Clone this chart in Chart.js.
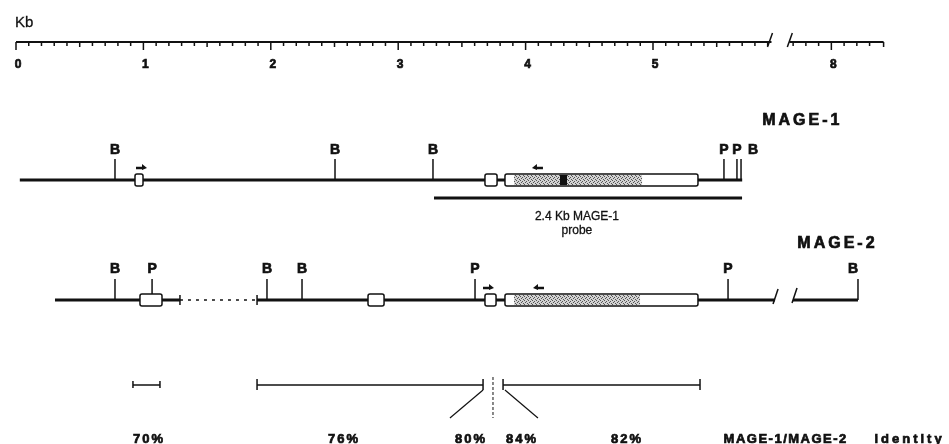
<!DOCTYPE html>
<html>
<head>
<meta charset="utf-8">
<script src="https://cdn.jsdelivr.net/npm/chart.js@4.4.0/dist/chart.umd.min.js"></script>
<style>
  html, body { margin: 0; padding: 0; background: #fff; }
  #wrap { position: relative; width: 949px; height: 444px; }
</style>
</head>
<body>
<div id="wrap"><canvas id="myChart"></canvas></div>
<script>
// positions in kb; everything right of the ruler break is shifted left by BREAK_SHIFT
var BREAK_SHIFT = 1.6;
var rulerLeft = [0, 5.93];
var rulerRight = [7.67, 8.41];
var rulerLabels = [0, 1, 2, 3, 4, 5, 8];

// MAGE-1
var mage1Line = [0.03, 5.70];
var mage1SiteKb = [0.777, 2.504, 3.273, 5.557, 5.659, 5.691];
var mage1SiteName = ["B", "B", "B", "P", "P", "B"];
var mage1SiteLabelKb = [0.777, 2.504, 3.273, 5.557, 5.659, 5.785];
var mage1Exons = [[0.934, 0.997], [3.681, 3.776], [3.838, 5.353]];
var mage1Coding = [[3.909, 4.270], [4.325, 4.914]];
var mage1Dark = [[4.270, 4.325]];
var mage1ArrowKb = [0.981, 4.097];
var mage1ArrowDir = [1, -1];
var probeLine = [3.281, 5.699];

// MAGE-2
var mage2Lines = [[0.306, 1.287], [1.892, 5.958], [7.699, 8.209]];
var mage2Gap = [1.287, 1.892];
var mage2SiteKb = [0.777, 1.068, 1.970, 2.245, 3.603, 5.589, 8.209];
var mage2SiteName = ["B", "P", "B", "B", "P", "P", "B"];
var mage2SiteLabelKb = [0.777, 1.068, 1.970, 2.245, 3.603, 5.589, 8.17];
var mage2Exons = [[0.973, 1.146], [2.763, 2.889], [3.681, 3.768], [3.838, 5.353]];
var mage2Coding = [[3.909, 4.898]];
var mage2ArrowKb = [3.705, 4.105];
var mage2ArrowDir = [1, -1];
var mage2BreakKb = [5.958, 7.699];

// MAGE-1 / MAGE-2 identity
var identRanges = [[0.918, 1.130], [1.892, 3.666], [3.823, 5.369]];
var identSplitKb = 3.744;
var identLeaders = [[3.666, 3.406], [3.838, 4.097]];
var identLabels = ["70%", "76%", "80%", "84%", "82%"];
var identLabelKb = [1.036, 2.567, 3.564, 3.964, 4.788];

// vertical layout rows (y axis units, top = 0)
var ROW = { ruler: 42, mage1: 180, probe: 198, mage2: 300, ident: 385, identLow: 418 };

function axisX(kb) { return kb > 6 ? kb - BREAK_SHIFT : kb; }

function seg(a, b, row) {
  return [{ x: axisX(a), y: row }, { x: axisX(b), y: row }];
}

function lineSet(data, width, dash) {
  return {
    data: data, showLine: true, borderColor: "#111", borderWidth: width,
    borderDash: dash || [], pointRadius: 0, fill: false, tension: 0,
    borderCapStyle: "butt"
  };
}

var datasets = [];
datasets.push(lineSet(seg(mage1Line[0], mage1Line[1], ROW.mage1), 3));
datasets.push(lineSet(seg(probeLine[0], probeLine[1], ROW.probe), 3));
mage2Lines.forEach(function (s) { datasets.push(lineSet(seg(s[0], s[1], ROW.mage2), 3)); });
datasets.push(lineSet(seg(mage2Gap[0], mage2Gap[1], ROW.mage2), 1.5, [3, 5]));
identRanges.forEach(function (s) { datasets.push(lineSet(seg(s[0], s[1], ROW.ident), 1.5)); });
identLeaders.forEach(function (s) {
  datasets.push(lineSet([{ x: axisX(s[0]), y: ROW.ident + 5 }, { x: axisX(s[1]), y: ROW.identLow }], 1.2));
});
datasets.push(lineSet([{ x: identSplitKb, y: ROW.ident - 8 }, { x: identSplitKb, y: ROW.identLow }], 1, [3, 2]));

function stipple(ctx) {
  var c = document.createElement("canvas");
  c.width = 4; c.height = 4;
  var g = c.getContext("2d");
  g.fillStyle = "#d2d2d2"; g.fillRect(0, 0, 4, 4);
  g.fillStyle = "#555";
  g.fillRect(0, 0, 1, 1); g.fillRect(2, 1, 1, 1); g.fillRect(1, 2, 1, 1); g.fillRect(3, 3, 1, 1);
  return ctx.createPattern(c, "repeat");
}

var FONT = '"Liberation Sans", Arial, sans-serif';

var mapPlugin = {
  id: "mapPlugin",
  afterDatasetsDraw: function (chart) {
    var ctx = chart.ctx;
    var xs = chart.scales.x, ys = chart.scales.y;
    function px(kb) { return xs.getPixelForValue(axisX(kb)); }
    function pa(a) { return xs.getPixelForValue(a); }
    function py(r) { return ys.getPixelForValue(r); }
    function line(x1, y1, x2, y2, w) {
      ctx.beginPath(); ctx.lineWidth = w; ctx.moveTo(x1, y1); ctx.lineTo(x2, y2); ctx.stroke();
    }
    // bold text gets a thin outline so it looks as heavy as the scanned lettering
    function text(str, x, y, size, bold, align, spacing) {
      ctx.font = (bold ? "bold " : "") + size + "px " + FONT;
      ctx.textAlign = align || "center";
      ctx.textBaseline = "alphabetic";
      ctx.letterSpacing = (spacing || 0) + "px";
      var dx = (align === "left") ? 0 : (spacing || 0) / 2;
      ctx.fillText(str, x + dx, y);
      ctx.lineWidth = bold ? 0.7 : 0.3;
      ctx.strokeText(str, x + dx, y);
      ctx.letterSpacing = "0px";
    }
    ctx.save();
    ctx.strokeStyle = "#111";
    ctx.fillStyle = "#111";
    ctx.lineCap = "butt";

    // ruler
    var ry = py(ROW.ruler);
    line(px(rulerLeft[0]), ry, px(rulerLeft[1]), ry, 2);
    line(px(rulerRight[0]), ry, px(rulerRight[1]), ry, 2);
    function rulerTicks(a, b) {
      for (var t = Math.ceil(a * 10 - 1e-6); t <= Math.floor(b * 10 + 1e-6); t++) {
        var len = (t % 10 === 0) ? 8 : (t % 5 === 0 ? 5 : 4);
        line(px(t / 10), ry, px(t / 10), ry + len, 1.5);
      }
    }
    rulerTicks(rulerLeft[0], rulerLeft[1] - 0.02);
    rulerTicks(rulerRight[0], rulerRight[1] - 0.02);
    line(px(rulerRight[1]), ry, px(rulerRight[1]), ry + 5, 1.5);
    line(px(rulerLeft[1]) - 4, ry + 5, px(rulerLeft[1]) + 1, ry - 9, 1.5);
    line(px(rulerRight[0]) - 2, ry + 5, px(rulerRight[0]) + 3, ry - 9, 1.5);
    rulerLabels.forEach(function (v) { text(String(v), px(v) + 2, py(68), 12, true); });
    text("Kb", pa(0) - 1, py(27), 15, false, "left");

    // restriction sites
    function sites(kbs, names, labelKbs, row, labelRow) {
      var y = py(row);
      kbs.forEach(function (k, i) {
        line(px(k), y, px(k), y - 21, 1.5);
        text(names[i], px(labelKbs[i]), py(labelRow), 14, true);
      });
    }
    sites(mage1SiteKb, mage1SiteName, mage1SiteLabelKb, ROW.mage1, 154);
    sites(mage2SiteKb, mage2SiteName, mage2SiteLabelKb, ROW.mage2, 273);

    // exons
    var pat = stipple(ctx);
    function boxes(list, coding, dark, row) {
      var y = py(row);
      list.forEach(function (b) {
        var x1 = px(b[0]), x2 = px(b[1]);
        ctx.beginPath();
        if (ctx.roundRect) ctx.roundRect(x1, y - 6, x2 - x1, 12, 2); else ctx.rect(x1, y - 6, x2 - x1, 12);
        ctx.fillStyle = "#fff"; ctx.fill();
        ctx.lineWidth = 1.5; ctx.stroke();
      });
      coding.forEach(function (c) {
        ctx.fillStyle = pat;
        ctx.fillRect(px(c[0]), y - 5, px(c[1]) - px(c[0]), 10);
      });
      dark.forEach(function (c) {
        ctx.fillStyle = "#111";
        ctx.fillRect(px(c[0]), y - 5, px(c[1]) - px(c[0]), 10);
      });
      ctx.fillStyle = "#111";
    }
    boxes(mage1Exons, mage1Coding, mage1Dark, ROW.mage1);
    boxes(mage2Exons, mage2Coding, [], ROW.mage2);

    // transcription arrows
    function arrows(kbs, dirs, row) {
      var y = py(row) - 12;
      kbs.forEach(function (k, i) {
        var cx = px(k), d = dirs[i];
        line(cx - 5 * d, y, cx + 2 * d, y, 2.5);
        ctx.beginPath();
        ctx.moveTo(cx + 6 * d, y);
        ctx.lineTo(cx + 1 * d, y - 4);
        ctx.lineTo(cx + 1 * d, y + 2);
        ctx.closePath(); ctx.fill();
      });
    }
    arrows(mage1ArrowKb, mage1ArrowDir, ROW.mage1);
    arrows(mage2ArrowKb, mage2ArrowDir, ROW.mage2);

    // ends of the MAGE-2 pieces and its break
    var m2 = py(ROW.mage2);
    line(px(mage2Gap[0]), m2 - 5, px(mage2Gap[0]), m2 + 5, 1.5);
    line(px(mage2Gap[1]), m2 - 5, px(mage2Gap[1]), m2 + 5, 1.5);
    line(px(mage2BreakKb[0]) - 2, m2 + 4, px(mage2BreakKb[0]) + 3, m2 - 11, 1.5);
    line(px(mage2BreakKb[1]) - 1, m2 + 3, px(mage2BreakKb[1]) + 4, m2 - 12, 1.5);

    // identity range end bars
    var iy = py(ROW.ident);
    identRanges.forEach(function (r, i) {
      var h = i === 0 ? 4 : 6;
      line(px(r[0]), iy - h, px(r[0]), iy + h - 1, 1.5);
      line(px(r[1]), iy - h, px(r[1]), iy + (i === 1 ? 5 : h - 1), 1.5);
    });

    // titles and labels
    text("MAGE-1", pa(6.16), py(125), 16, true, "center", 3);
    text("MAGE-2", pa(6.436), py(248), 16, true, "center", 3);
    text("2.4 Kb MAGE-1", px(4.403), py(220), 12, false);
    text("probe", px(4.403), py(234), 12, false);
    identLabels.forEach(function (s, i) { text(s, px(identLabelKb[i]), py(443), 13, true, "center", 2); });
    text("MAGE-1/MAGE-2", pa(6.036), py(443), 13, true, "center", 1.5);
    text("identity", pa(7.002), py(443), 13, true, "center", 3);
    ctx.restore();
  }
};

new Chart("myChart", {
  type: "scatter",
  data: { datasets: datasets },
  options: {
    responsive: true,
    maintainAspectRatio: false,
    animation: false,
    events: [],
    layout: { padding: 0 },
    plugins: { legend: { display: false }, tooltip: { enabled: false } },
    scales: {
      x: { type: "linear", min: -0.1256, max: 7.3234, display: false },
      y: { type: "linear", min: 0, max: 444, reverse: true, display: false }
    }
  },
  plugins: [mapPlugin]
});
</script>
</body>
</html>
